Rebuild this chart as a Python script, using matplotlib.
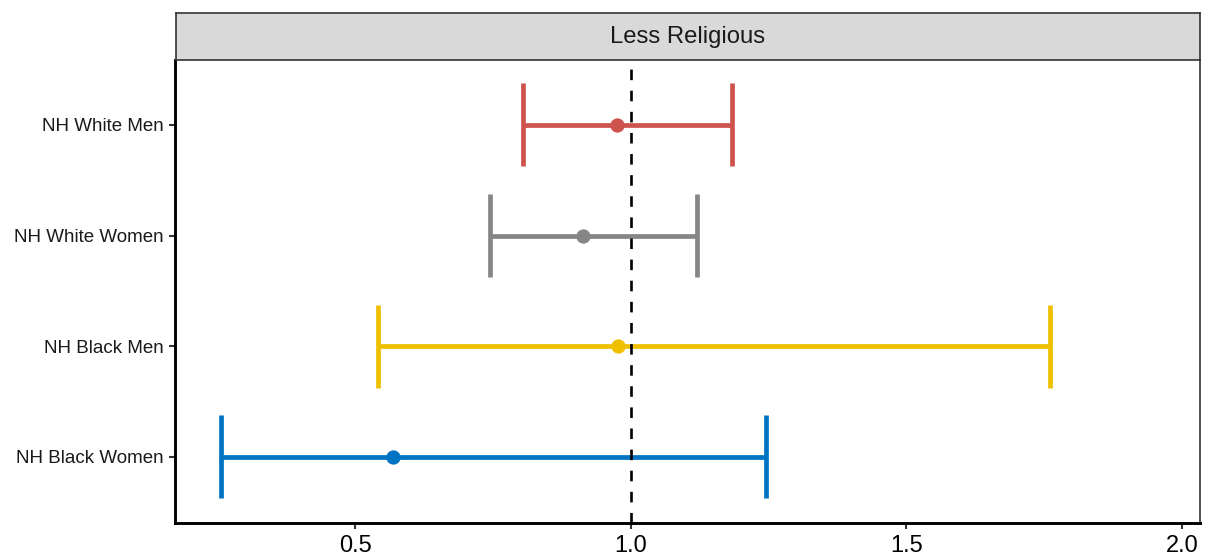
import matplotlib
matplotlib.use("Agg")
import matplotlib.pyplot as plt

plt.rcParams['font.family'] = ['Liberation Sans', 'DejaVu Sans']

groups = ["NH White Men", "NH White Women", "NH Black Men", "NH Black Women"]
estimate = [0.975, 0.914, 0.977, 0.569]
lower = [0.805, 0.745, 0.542, 0.257]
upper = [1.184, 1.121, 1.760, 1.246]
colors = ["#CD534C", "#868686", "#EFC000", "#0073C2"]
facet_title = "Less Religious"
xticks = [0.5, 1.0, 1.5, 2.0]
xticklabels = ["0.5", "1.0", "1.5", "2.0"]
ref_value = 1.0

W, H = 1206, 560
fig = plt.figure(figsize=(W / 100, H / 100), dpi=100)
left, right = 174.5 / W, 1199.5 / W
bottom, top = 1 - 522.5 / H, 1 - 60 / H
ax = fig.add_axes([left, bottom, right - left, top - bottom])

n = len(groups)
ypos = [n - i for i in range(n)]
half = 0.375
for y, e, lo, hi, c in zip(ypos, estimate, lower, upper, colors):
    ax.hlines(y, lo, hi, color=c, lw=3.4, zorder=2)
    ax.vlines([lo, hi], y - half, y + half, color=c, lw=3.4, zorder=2)
    ax.plot([e], [y], 'o', color=c, ms=10.3, mec='none', zorder=3)

ax.axvline(ref_value, color='black', lw=1.9, dashes=(4, 4), zorder=4)

ax.set_xlim(0.1726, 2.0317)
ax.set_ylim(0.408, 4.587)
ax.set_yticks(ypos)
ax.set_yticklabels(groups, fontsize=13.5, color='#1A1A1A')
ax.set_xticks(xticks)
ax.set_xticklabels(xticklabels, fontsize=17, color='black')
ax.tick_params(axis='both', length=4.3, width=1.5, color='#333333')
ax.tick_params(axis='y', pad=3.6)
ax.tick_params(axis='x', pad=5)

for s in ['left', 'bottom']:
    ax.spines[s].set_color('black')
    ax.spines[s].set_linewidth(2.1)
ax.spines['right'].set_color('#333333')
ax.spines['right'].set_linewidth(1.2)
ax.spines['top'].set_visible(False)

# facet strip
sb = 1 - 60 / H
st = 1 - 13 / H
sax = fig.add_axes([175.5 / W, sb, right - 175.5 / W, st - sb])
sax.set_facecolor('#D9D9D9')
sax.set_xticks([])
sax.set_yticks([])
for s in sax.spines.values():
    s.set_color('#333333')
    s.set_linewidth(1.2)
sax.text(0.5, 0.5, facet_title, ha='center', va='center', fontsize=17.2,
         color='#1A1A1A', transform=sax.transAxes)

fig.savefig("out.png", dpi=100)
